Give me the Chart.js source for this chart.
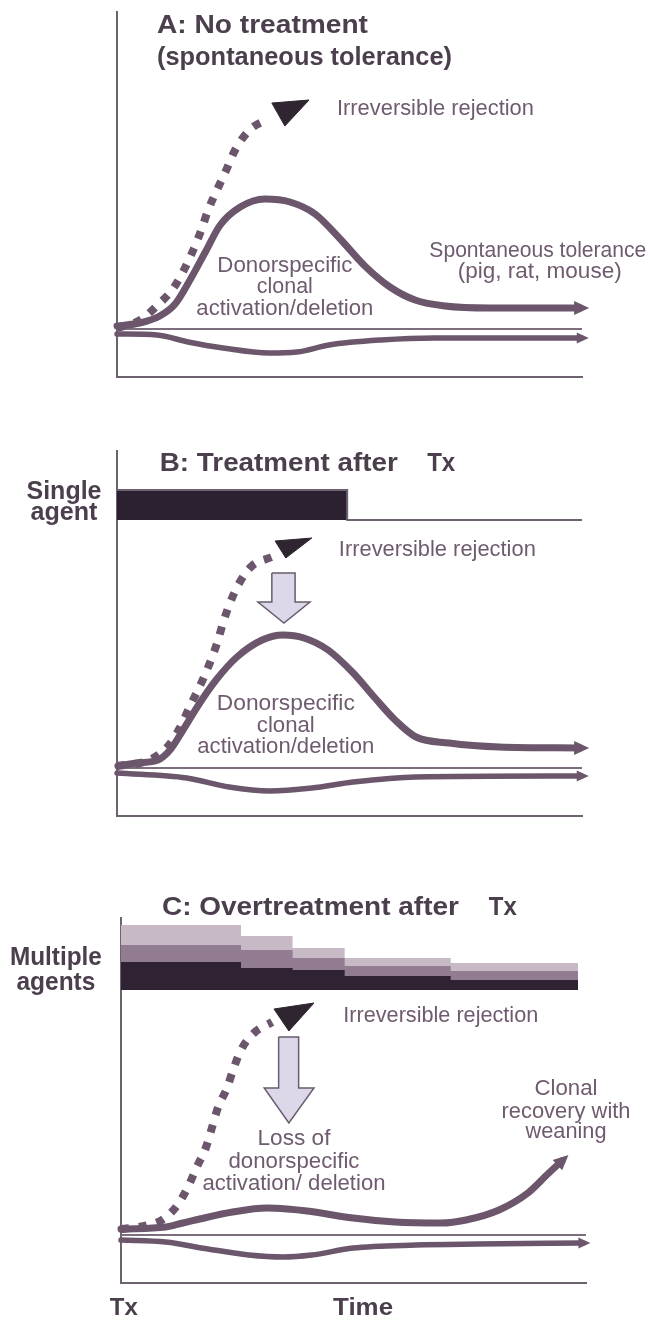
<!DOCTYPE html>
<html><head><meta charset="utf-8">
<script src="https://cdn.jsdelivr.net/npm/chart.js@4.4.1/dist/chart.umd.min.js"></script>
<style>
html,body{margin:0;padding:0;background:#fff;}
#wrap{position:relative;width:652px;height:1320px;overflow:hidden;}
.pane{position:absolute;left:0;width:652px;}
canvas{display:block;}
</style></head><body>
<div id="wrap">
<div class="pane" style="top:0;height:420px"><canvas id="cA" width="652" height="420"></canvas></div>
<div class="pane" style="top:420px;height:440px"><canvas id="cB" width="652" height="440"></canvas></div>
<div class="pane" style="top:860px;height:460px"><canvas id="cC" width="652" height="460"></canvas></div>
</div>
<script>
// ---------- DATA (time 0..100, response level; 0 = reference line) ----------
// Panel A
const aUpperX = [0, 4.9, 9.2, 12.5, 15.7, 19.0, 22.2, 26.5, 31.8, 37.2, 42.6, 48.0, 53.3, 58.7, 64.1, 70.5, 80.2, 99.6];
const aUpperY = [0.3, 0.6, 1.3, 2.5, 4.9, 7.7, 10.4, 12.2, 13.0, 12.7, 11.5, 9.0, 6.3, 4.2, 2.9, 2.3, 2.1, 2.1];
const aLowerX = [0, 8.6, 15.3, 22.8, 32.7, 38.7, 45.6, 56.8, 68.2, 99.9];
const aLowerY = [-0.5, -0.6, -1.3, -1.9, -2.4, -2.3, -1.6, -1.1, -0.9, -0.9];
const aRejectX = [0, 5, 9, 12, 14.5, 16.5, 18.2, 19.6, 21.4, 23.4, 25.4, 28.5, 32.5];
const aRejectY = [0.1, 0.9, 2.5, 4.0, 6.0, 8.0, 10.0, 11.9, 13.8, 15.8, 17.9, 19.9, 21.0];
const aHeadX = [33.3, 41.3, 36.1, 33.3];
const aHeadY = [22.6, 22.9, 20.3, 22.6];

// Panel B
const bUpperX = [0.2, 4.3, 8.8, 11.4, 14.2, 17.8, 21.3, 25.8, 31.2, 35.7, 40.2, 45.4, 50.8, 55.3, 59.8, 64.3, 71.4, 82.2, 99.6];
const bUpperY = [0.2, 0.5, 0.8, 1.8, 3.8, 6.5, 8.8, 11.1, 12.8, 13.3, 13.0, 11.8, 9.5, 7.1, 4.8, 3.1, 2.5, 2.1, 2.0];
const bLowerX = [0, 15, 24.1, 32.9, 41.9, 50.8, 64.3, 99.9];
const bLowerY = [-0.5, -1.0, -1.9, -2.3, -2.0, -1.4, -0.9, -0.8];
const bRejectX = [0, 7, 11, 13.5, 15.5, 17.2, 18.8, 20.3, 21.6, 22.8, 24.3, 26.3, 29, 33.3];
const bRejectY = [0.2, 0.8, 2.2, 4.0, 6.0, 7.6, 9.2, 10.9, 12.6, 14.5, 16.5, 18.5, 20.2, 21.1];
const bHeadX = [34.0, 41.9, 36.3, 34.0];
const bHeadY = [22.7, 23.0, 21.0, 22.7];
const bBlockX = [33.3, 38.3, 38.3, 41.5, 35.9, 30.3, 33.3, 33.3];
const bBlockY = [19.5, 19.5, 16.6, 16.6, 14.5, 16.6, 16.6, 19.5];
const bAgentX = [0, 49.5, 100];
const bAgentY = [27.8, 24.8, 24.8];
const bAgentBase = 24.8;

// Panel C
const cUpperX = [0, 9.6, 13.3, 16.9, 24.0, 31.4, 35.7, 40.0, 49.9, 58.9, 68.8, 74.2, 81.3, 87.5, 92.0, 94.8];
const cUpperY = [0.6, 0.8, 1.2, 1.6, 2.3, 2.7, 2.6, 2.4, 1.7, 1.3, 1.2, 1.5, 2.5, 4.2, 6.2, 7.4];
const cLowerX = [0, 9.6, 18.7, 27.5, 34.8, 41.0, 49.9, 63.4, 76.7, 99.4];
const cLowerY = [-0.5, -0.7, -1.4, -2.0, -2.2, -2.0, -1.3, -1.0, -0.9, -0.8];
const cRejectX = [0, 5, 8.8, 12.0, 14.4, 16.3, 18.3, 19.6, 20.9, 22.8, 24.1, 25.8, 28.6, 32.5];
const cRejectY = [0.6, 0.9, 1.5, 2.9, 4.8, 6.8, 8.8, 10.8, 12.8, 14.7, 16.5, 18.5, 20.2, 21.3];
const cHeadX = [32.9, 41.5, 36.1, 32.9];
const cHeadY = [22.6, 23.2, 20.4, 22.6];
const cBlockX = [33.9, 38.2, 38.2, 41.5, 36.1, 30.8, 33.9, 33.9];
const cBlockY = [19.8, 19.8, 14.7, 14.7, 11.2, 14.7, 14.7, 19.8];
const cDoseEdges = [0, 25.8, 36.9, 48.1, 70.9, 98.3];
const cDoseDark  = [27.3, 26.7, 26.5, 25.9, 25.5, 25.5];
const cDoseMid   = [29.0, 28.5, 27.7, 26.9, 26.4, 26.4];
const cDoseLight = [31.0, 29.9, 28.7, 27.7, 27.2, 27.2];
const cDoseBase = 24.5;

const refX = [0, 100];
const refY = [0, 0];

// ---------- STYLE ----------
const CURVE = '#6b566c';
const AXIS = '#6e6170';
const REF = '#7c6e7c';
const TXT = '#6f5b6f';
const TITLE = '#4b3f4d';
const HEAD = '#2f2531';
const FONT = "'Liberation Sans', Arial, sans-serif";

function pts(xs, ys){ return xs.map((x,i)=>({x:x, y:ys[i]})); }

function curve(xs, ys, w, arrow){
  return {data:pts(xs,ys), borderColor:CURVE, borderWidth:w, pointRadius:0,
    cubicInterpolationMode:'monotone', fill:false, clip:false, arrowHead:arrow,
    borderCapStyle:'round', borderJoinStyle:'round'};
}
function dotted(xs, ys){
  return {data:pts(xs,ys), borderColor:CURVE, borderWidth:8, pointRadius:0,
    cubicInterpolationMode:'monotone', borderDash:[8,10], borderCapStyle:'butt', fill:false, clip:false};
}
function shape(xs, ys, fillC, lineC, w){
  return {data:pts(xs,ys), borderColor:lineC, backgroundColor:fillC, borderWidth:w, pointRadius:0,
    tension:0, fill:'shape', clip:false, borderJoinStyle:'miter'};
}
function refLine(){
  return {data:pts(refX, refY), borderColor:REF, borderWidth:2, pointRadius:0, tension:0, fill:false, clip:false};
}
function band(xs, ys, base, color){
  return {data:pts(xs,ys), borderColor:color, backgroundColor:color, borderWidth:0, pointRadius:0,
    stepped:'before', fill:{value:base}, clip:false};
}

const arrowPlugin = {
  id:'arrowHeads',
  afterDatasetsDraw(chart){
    const ctx = chart.ctx;
    chart.data.datasets.forEach((ds, i)=>{
      if(!ds.arrowHead) return;
      const meta = chart.getDatasetMeta(i);
      const p = meta.data;
      const last = p[p.length-1], prev = p[p.length-2];
      let dx = last.x - (last.cp1x ?? prev.x), dy = last.y - (last.cp1y ?? prev.y);
      if (Math.hypot(dx,dy) < 0.5){ dx = last.x - prev.x; dy = last.y - prev.y; }
      const a = Math.atan2(dy, dx);
      const L = ds.arrowHead.len, W = ds.arrowHead.width;
      const tipX = last.x + Math.cos(a)*L*0.6, tipY = last.y + Math.sin(a)*L*0.6;
      const bx = tipX - Math.cos(a)*L, by = tipY - Math.sin(a)*L;
      ctx.save();
      ctx.fillStyle = ds.borderColor;
      ctx.beginPath();
      ctx.moveTo(tipX, tipY);
      ctx.lineTo(bx + Math.cos(a+Math.PI/2)*W/2, by + Math.sin(a+Math.PI/2)*W/2);
      ctx.lineTo(bx - Math.cos(a+Math.PI/2)*W/2, by - Math.sin(a+Math.PI/2)*W/2);
      ctx.closePath();
      ctx.fill();
      ctx.restore();
    });
  }
};

const textPlugin = {
  id:'panelText',
  afterDraw(chart, args, opts){
    const ctx = chart.ctx;
    const xs = chart.scales.x, ys = chart.scales.y;
    (opts.items||[]).forEach(it=>{
      const px = xs.getPixelForValue(it.x), py = ys.getPixelForValue(it.y);
      ctx.save();
      ctx.font = (it.bold ? 'bold ' : '') + it.size + 'px ' + FONT;
      ctx.fillStyle = it.color || TXT;
      ctx.textBaseline = 'alphabetic';
      const m = ctx.measureText(it.t).width;
      const sx = it.w ? it.w / m : 1;
      ctx.translate(px, py);
      ctx.scale(sx, 1);
      ctx.textAlign = it.align || 'left';
      ctx.fillText(it.t, 0, 0);
      ctx.restore();
    });
  }
};

function axes(){
  const common = {type:'linear', display:true, grid:{display:false, drawTicks:false},
    ticks:{display:false}, border:{display:true, color:AXIS, width:2}};
  return {x:Object.assign({min:0, max:100}, common), y:Object.assign({min:-4.8, max:31.7}, common)};
}

function make(id, datasets, pad, items){
  return new Chart(document.getElementById(id), {
    type:'line',
    data:{datasets:datasets},
    options:{
      responsive:false, animation:false, events:[],
      layout:{padding:pad},
      scales:axes(),
      plugins:{legend:{display:false}, tooltip:{enabled:false}, panelText:{items:items}}
    },
    plugins:[arrowPlugin, textPlugin]
  });
}

// Panel A
make('cA', [
  shape(aHeadX, aHeadY, HEAD, HEAD, 1),
  dotted(aRejectX, aRejectY),
  curve(aUpperX, aUpperY, 7, {len:15, width:14}),
  curve(aLowerX, aLowerY, 5.5, {len:12, width:11}),
  refLine()
], {left:117, right:70, top:12, bottom:43}, [
  {t:'A: No treatment', x:8.6, y:29.6, size:26, bold:true, w:211, color:TITLE},
  {t:'(spontaneous tolerance)', x:8.6, y:26.4, size:26, bold:true, w:295, color:TITLE},
  {t:'Irreversible rejection', x:47.3, y:21.4, size:22, w:197},
  {t:'Donorspecific', x:36.1, y:5.7, size:22, w:135, align:'center'},
  {t:'clonal', x:36.1, y:3.6, size:22, w:56, align:'center'},
  {t:'activation/deletion', x:36.1, y:1.4, size:22, w:177, align:'center'},
  {t:'Spontaneous tolerance', x:90.5, y:7.2, size:22, w:217, align:'center'},
  {t:'(pig, rat, mouse)', x:90.9, y:5.1, size:22, w:164, align:'center'}
]);

// Panel B
make('cB', [
  shape(bBlockX, bBlockY, '#dcd8ea', '#6a5c6c', 1.5),
  shape(bHeadX, bHeadY, HEAD, HEAD, 1),
  dotted(bRejectX, bRejectY),
  curve(bUpperX, bUpperY, 7, {len:15, width:14}),
  curve(bLowerX, bLowerY, 5.5, {len:12, width:11}),
  refLine(),
  Object.assign(band(bAgentX, bAgentY, bAgentBase, '#2b2130'), {borderWidth:2, borderColor:'#6e6170'})
], {left:117, right:70, top:31, bottom:44}, [
  {t:'B: Treatment after', x:9.2, y:29.7, size:26, bold:true, w:238, color:TITLE},
  {t:'Tx', x:66.7, y:29.7, size:26, bold:true, w:28, color:TITLE},
  {t:'Single', x:-11.4, y:26.9, size:25, bold:true, w:75, align:'center', color:TITLE},
  {t:'agent', x:-11.4, y:24.8, size:25, bold:true, w:67, align:'center', color:TITLE},
  {t:'Irreversible rejection', x:47.7, y:21.2, size:22, w:197},
  {t:'Donorspecific', x:36.3, y:5.8, size:22, w:138, align:'center'},
  {t:'clonal', x:36.3, y:3.6, size:22, w:58, align:'center'},
  {t:'activation/deletion', x:36.3, y:1.5, size:22, w:177, align:'center'}
]);

// Panel C
make('cC', [
  shape(cBlockX, cBlockY, '#dcd8ea', '#6a5c6c', 1.5),
  shape(cHeadX, cHeadY, HEAD, HEAD, 1),
  dotted(cRejectX, cRejectY),
  curve(cUpperX, cUpperY, 7, {len:15, width:14}),
  curve(cLowerX, cLowerY, 5.5, {len:12, width:11}),
  refLine(),
  band(cDoseEdges, cDoseDark, cDoseBase, '#2e2233'),
  band(cDoseEdges, cDoseMid, cDoseBase, '#917c91'),
  band(cDoseEdges, cDoseLight, cDoseBase, '#c8b9c7')
], {left:121, right:66, top:58, bottom:37}, [
  {t:'C: Overtreatment after', x:8.8, y:32.0, size:26, bold:true, w:297, color:TITLE},
  {t:'Tx', x:79.1, y:32.0, size:26, bold:true, w:28, color:TITLE},
  {t:'Multiple', x:-14.0, y:27.0, size:25, bold:true, w:92, align:'center', color:TITLE},
  {t:'agents', x:-14.0, y:24.5, size:25, bold:true, w:79, align:'center', color:TITLE},
  {t:'Irreversible rejection', x:47.8, y:21.3, size:22, w:195},
  {t:'Loss of', x:37.2, y:9.0, size:22, w:73, align:'center'},
  {t:'donorspecific', x:37.2, y:6.7, size:22, w:131, align:'center'},
  {t:'activation/ deletion', x:37.2, y:4.5, size:22, w:183, align:'center'},
  {t:'Clonal', x:95.7, y:14.0, size:22, w:63, align:'center'},
  {t:'recovery with', x:95.7, y:11.7, size:22, w:129, align:'center'},
  {t:'weaning', x:95.7, y:9.7, size:22, w:81, align:'center'},
  {t:'Tx', x:-2.4, y:-8.0, size:23, bold:true, w:28, color:TITLE},
  {t:'Time', x:45.6, y:-8.0, size:23, bold:true, w:60, color:TITLE}
]);
</script>
</body></html>
